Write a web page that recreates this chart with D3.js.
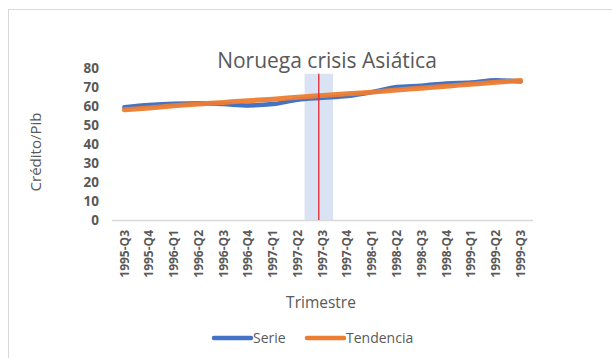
<!DOCTYPE html>
<html>
<head>
<meta charset="utf-8">
<script src="https://cdn.jsdelivr.net/npm/d3@7"></script>
<style>
  html, body { margin: 0; padding: 0; background: #fff; }
  svg { display: block; }
</style>
</head>
<body>
<svg id="chart" width="612" height="358"></svg>
<script>
// Quarters on the horizontal axis
const quarters = [
  "1995-Q3","1995-Q4","1996-Q1","1996-Q2","1996-Q3","1996-Q4","1997-Q1","1997-Q2",
  "1997-Q3","1997-Q4","1998-Q1","1998-Q2","1998-Q3","1998-Q4","1999-Q1","1999-Q2","1999-Q3"
];
// Credit / GDP ratio
const serie = [59.4, 60.5, 61.2, 61.5, 61.0, 60.3, 61.0, 63.3, 64.3, 65.2, 67.3, 70.0, 70.7, 71.9, 72.4, 73.6, 72.9];
// Trend component
const tendencia = [58.0, 59.0, 60.1, 61.0, 61.9, 62.8, 63.6, 64.6, 65.5, 66.4, 67.3, 68.4, 69.4, 70.4, 71.5, 72.5, 73.4];
const yTicks = [0, 10, 20, 30, 40, 50, 60, 70, 80];
// Crisis marker: position along the quarter axis and height of the shaded band
const crisisPos = 7.85;
const crisisTop = 77;

const svg = d3.select("#chart");
const margin = { left: 112, right: 79, top: 68, bottom: 138 };
const W = 612, H = 358;
const x0 = margin.left, x1 = W - margin.right;
const yBase = H - margin.bottom;

const x = d3.scalePoint().domain(quarters).range([x0, x1]).padding(0.5);
const idx = d3.scaleLinear().domain([0, quarters.length - 1])
  .range([x(quarters[0]), x(quarters[quarters.length - 1])]);
const y = d3.scaleLinear().domain([0, 80]).range([yBase, margin.top]);

const grey = "#595959";
const font = "Open Sans, sans-serif";

// chart frame
svg.append("rect").attr("x", 8.5).attr("y", 9.5).attr("width", 640).attr("height", 400)
  .attr("fill", "none").attr("stroke", "#d9d9d9").attr("stroke-width", 1);

// title
svg.append("text").attr("x", 327).attr("y", 68)
  .attr("text-anchor", "middle").attr("font-family", font)
  .attr("font-size", 21).attr("fill", grey).text("Noruega crisis Asiática");

// shaded crisis band
const step = x.step();
svg.append("rect")
  .attr("x", idx(crisisPos) - step * 0.575).attr("width", step * 1.15)
  .attr("y", y(crisisTop)).attr("height", y(0) - y(crisisTop))
  .attr("fill", "#dae3f3");

// baseline axis
svg.append("line").attr("x1", x0).attr("x2", x1).attr("y1", yBase + 0.5).attr("y2", yBase + 0.5)
  .attr("stroke", "#d9d9d9").attr("stroke-width", 1.5);

// y tick labels
svg.append("g").selectAll("text").data(yTicks).join("text")
  .attr("x", 99).attr("y", d => y(d)).attr("dy", "0.35em")
  .attr("text-anchor", "end").attr("font-family", font)
  .attr("font-weight", "bold").attr("font-size", 13.5).attr("fill", grey)
  .text(d => d);

// x tick labels (rotated)
svg.append("g").selectAll("text").data(quarters).join("text")
  .attr("transform", d => `translate(${x(d)},${yBase + 10}) rotate(-90)`)
  .attr("dy", "0.35em").attr("text-anchor", "end")
  .attr("font-family", font).attr("font-weight", "bold")
  .attr("font-size", 12).attr("fill", grey).text(d => d);

// lines
const line = d3.line().x((d, i) => x(quarters[i])).y(d => y(d)).curve(d3.curveMonotoneX);
svg.append("path").datum(serie).attr("d", line).attr("fill", "none")
  .attr("stroke", "#4472c4").attr("stroke-width", 4.5).attr("stroke-linecap", "round");
svg.append("path").datum(tendencia).attr("d", line).attr("fill", "none")
  .attr("stroke", "#ed7d31").attr("stroke-width", 5).attr("stroke-linecap", "round")
  .attr("opacity", 0.95);

// red crisis line
svg.append("line").attr("x1", idx(crisisPos)).attr("x2", idx(crisisPos))
  .attr("y1", y(crisisTop)).attr("y2", y(0))
  .attr("stroke", "#e3262c").attr("stroke-width", 1.3);

// axis titles
svg.append("text").attr("transform", "translate(41,152) rotate(-90)")
  .attr("text-anchor", "middle").attr("font-family", font)
  .attr("font-size", 15).attr("fill", grey).text("Crédito/Pib");
svg.append("text").attr("x", 321).attr("y", 308)
  .attr("text-anchor", "middle").attr("font-family", font)
  .attr("font-size", 15.5).attr("fill", grey).text("Trimestre");

// legend
const legend = [
  { name: "Serie", color: "#4472c4", x: 214 },
  { name: "Tendencia", color: "#ed7d31", x: 307 }
];
const lg = svg.append("g").selectAll("g").data(legend).join("g")
  .attr("transform", d => `translate(${d.x},338)`);
lg.append("line").attr("x1", 0).attr("x2", 37).attr("stroke", d => d.color)
  .attr("stroke-width", 4.5).attr("stroke-linecap", "round");
lg.append("text").attr("x", 39).attr("dy", "0.35em")
  .attr("font-family", font).attr("font-size", 14)
  .attr("fill", grey).text(d => d.name);
</script>
</body>
</html>
